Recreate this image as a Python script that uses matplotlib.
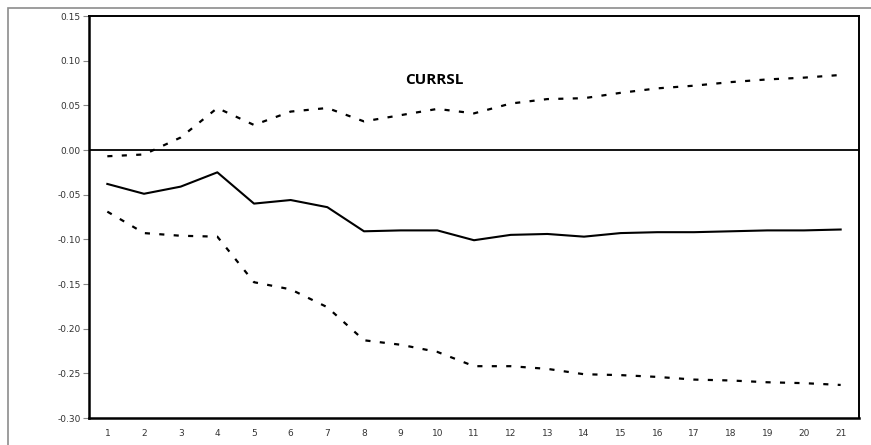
import numpy as np
import matplotlib.pyplot as plt
from matplotlib.patches import Rectangle

# impulse response and its bands
periods = list(range(1, 22))
response = [-0.038, -0.049, -0.041, -0.025, -0.060, -0.056, -0.064, -0.091, -0.090, -0.090,
            -0.101, -0.095, -0.094, -0.097, -0.093, -0.092, -0.092, -0.091, -0.090, -0.090, -0.089]
upper = [-0.007, -0.005, 0.014, 0.047, 0.028, 0.043, 0.047, 0.032, 0.039, 0.046,
         0.041, 0.052, 0.057, 0.058, 0.064, 0.069, 0.072, 0.076, 0.079, 0.081, 0.084]
lower = [-0.069, -0.093, -0.096, -0.097, -0.148, -0.156, -0.176, -0.213, -0.218, -0.226,
         -0.242, -0.242, -0.245, -0.251, -0.252, -0.254, -0.257, -0.258, -0.260, -0.261, -0.263]
yticks = [-0.30, -0.25, -0.20, -0.15, -0.10, -0.05, 0.00, 0.05, 0.10, 0.15]
ytick_labels = ["-0.30", "-0.25", "-0.20", "-0.15", "-0.10", "-0.05", "0.00", "0.05", "0.10", "0.15"]

fig = plt.figure(figsize=(8.71, 4.45), dpi=100)
# grey frame of the chart area
fig.patches.append(Rectangle((8 / 871, -0.1), 1.0, 1 - 8.5 / 445 + 0.1, transform=fig.transFigure,
                             fill=False, edgecolor="#8c8c8c", linewidth=1.2))
ax = fig.add_axes([89 / 871, 1 - 418 / 445, (859 - 89) / 871, (418 - 16) / 445])

ax.plot(periods, response, color="black", linewidth=1.5)
for band in (upper, lower):
    ln, = ax.plot(periods, band, color="black", linewidth=1.6)
    ln.set_dashes((2.3, 4.2))
ax.axhline(0, color="black", linewidth=1.3)

ax.set_xlim(0.5, 21.5)
ax.set_ylim(-0.30, 0.15)
ax.set_xticks(periods)
ax.set_yticks(yticks)
ax.set_yticklabels(ytick_labels)
ax.tick_params(axis="x", length=0, pad=8, labelsize=6.5, labelcolor="#333333")
ax.tick_params(axis="y", length=4, width=0.8, color="#888888", pad=2, labelsize=6.5, labelcolor="#333333")
for side in ["left", "bottom"]:
    ax.spines[side].set_linewidth(1.8)
for side in ["top", "right"]:
    ax.spines[side].set_linewidth(1.4)

ax.text(0.449, 0.84, "CURRSL", transform=ax.transAxes, ha="center", va="center",
        fontsize=11, fontweight="bold", family="Open Sans")

fig.savefig("out.png", dpi=100)
